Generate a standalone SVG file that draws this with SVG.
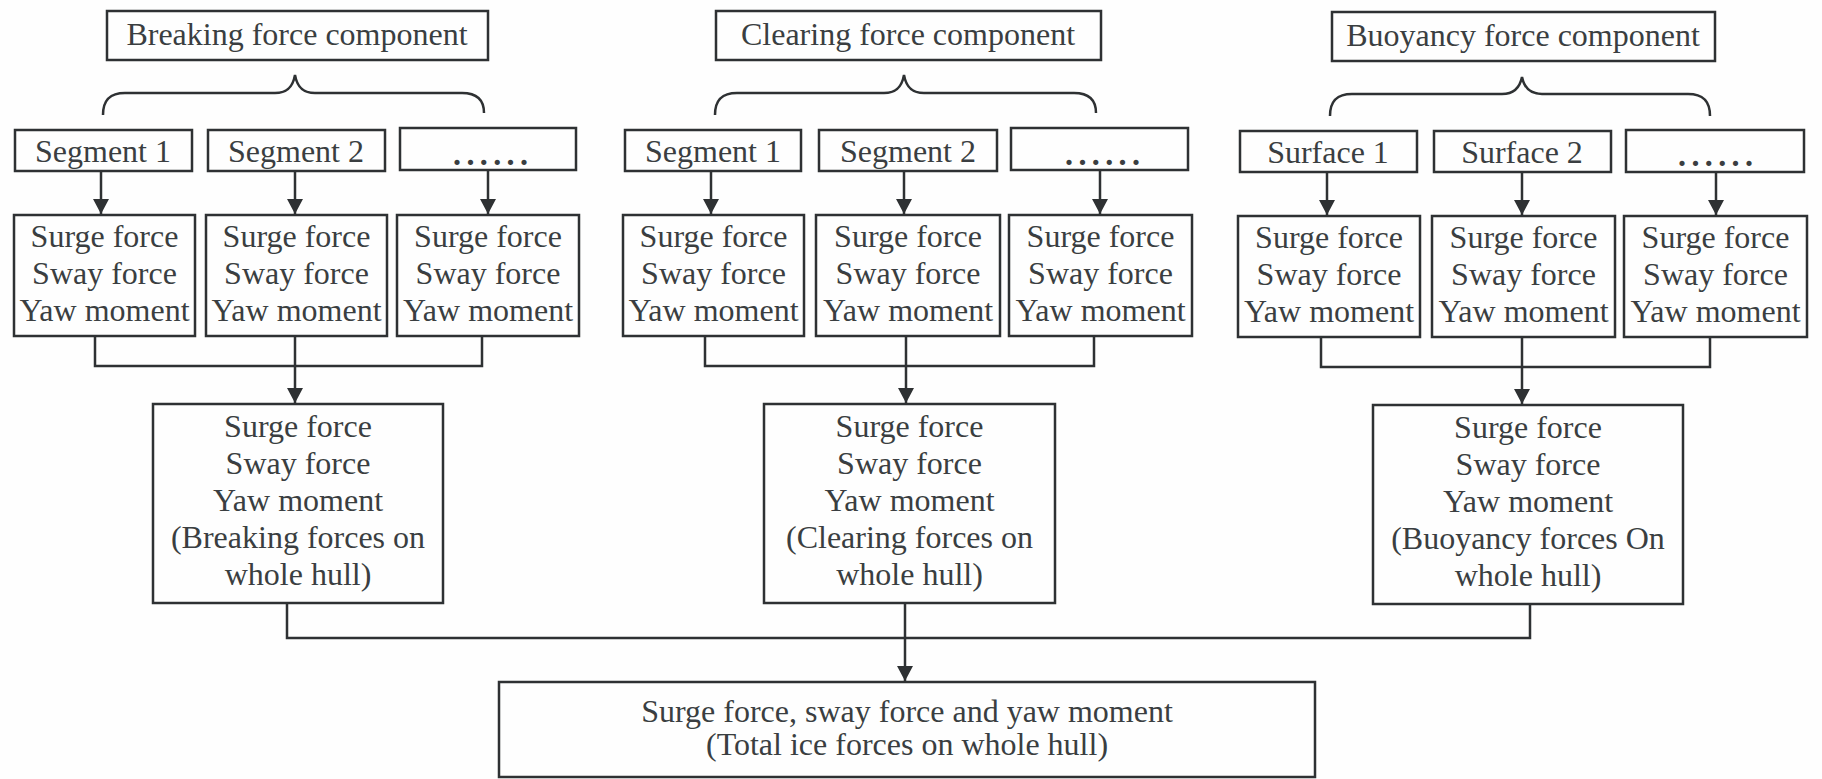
<svg xmlns="http://www.w3.org/2000/svg" width="1822" height="779" viewBox="0 0 1822 779">
<style>
.box{fill:none;stroke:#2e3133;stroke-width:2.5}
.ln{fill:none;stroke:#2e3133;stroke-width:2.5}
.t{font-family:"Liberation Serif","Times New Roman",serif;font-size:32px;fill:#3a3e41;text-anchor:middle}
.d{font-family:"Liberation Serif","Times New Roman",serif;font-size:32px;fill:#3a3e41;letter-spacing:5.4px;font-weight:bold}
</style>
<defs>
<marker id="ah" markerWidth="16" markerHeight="16" refX="15" refY="8" orient="auto" markerUnits="userSpaceOnUse">
<path d="M0,0 L15,8 L0,16 z" fill="#2e3133"/>
</marker>
</defs>
<rect x="0" y="0" width="1822" height="779" fill="#fefefe"/>

<!-- Breaking -->
<g id="breaking-title"><rect class="box" x="107" y="11" width="381" height="49"/><text class="t" x="297" y="45">Breaking force component</text></g>
<g id="b-seg1"><rect class="box" x="15" y="130" width="177" height="41"/><text class="t" x="103" y="162">Segment 1</text></g>
<g id="b-seg2"><rect class="box" x="208" y="130" width="177" height="41"/><text class="t" x="296" y="162">Segment 2</text></g>
<g id="b-seg3"><rect class="box" x="400" y="128" width="176" height="42"/><text class="d" x="453" y="165">......</text></g>
<g id="b-f1"><rect class="box" x="14" y="215" width="181" height="121"/><text class="t" x="104.5" y="247">Surge force</text><text class="t" x="104.5" y="284">Sway force</text><text class="t" x="104.5" y="321">Yaw moment</text></g>
<g id="b-f2"><rect class="box" x="206" y="215" width="181" height="121"/><text class="t" x="296.5" y="247">Surge force</text><text class="t" x="296.5" y="284">Sway force</text><text class="t" x="296.5" y="321">Yaw moment</text></g>
<g id="b-f3"><rect class="box" x="397" y="215" width="182" height="121"/><text class="t" x="488" y="247">Surge force</text><text class="t" x="488" y="284">Sway force</text><text class="t" x="488" y="321">Yaw moment</text></g>
<g id="b-total"><rect class="box" x="153" y="404" width="290" height="199"/><text class="t" x="298" y="437">Surge force</text><text class="t" x="298" y="474">Sway force</text><text class="t" x="298" y="511">Yaw moment</text><text class="t" x="298" y="548">(Breaking forces on</text><text class="t" x="298" y="585">whole hull)</text></g>

<!-- Clearing -->
<g id="clearing-title"><rect class="box" x="716" y="11" width="385" height="49"/><text class="t" x="908" y="45">Clearing force component</text></g>
<g id="c-seg1"><rect class="box" x="625" y="130" width="176" height="41"/><text class="t" x="713" y="162">Segment 1</text></g>
<g id="c-seg2"><rect class="box" x="819" y="130" width="178" height="41"/><text class="t" x="908" y="162">Segment 2</text></g>
<g id="c-seg3"><rect class="box" x="1011" y="128" width="177" height="42"/><text class="d" x="1065" y="165">......</text></g>
<g id="c-f1"><rect class="box" x="623" y="215" width="181" height="121"/><text class="t" x="713.5" y="247">Surge force</text><text class="t" x="713.5" y="284">Sway force</text><text class="t" x="713.5" y="321">Yaw moment</text></g>
<g id="c-f2"><rect class="box" x="816" y="215" width="184" height="121"/><text class="t" x="908" y="247">Surge force</text><text class="t" x="908" y="284">Sway force</text><text class="t" x="908" y="321">Yaw moment</text></g>
<g id="c-f3"><rect class="box" x="1009" y="215" width="183" height="121"/><text class="t" x="1100.5" y="247">Surge force</text><text class="t" x="1100.5" y="284">Sway force</text><text class="t" x="1100.5" y="321">Yaw moment</text></g>
<g id="c-total"><rect class="box" x="764" y="404" width="291" height="199"/><text class="t" x="909.5" y="437">Surge force</text><text class="t" x="909.5" y="474">Sway force</text><text class="t" x="909.5" y="511">Yaw moment</text><text class="t" x="909.5" y="548">(Clearing forces on</text><text class="t" x="909.5" y="585">whole hull)</text></g>

<!-- Buoyancy -->
<g id="buoyancy-title"><rect class="box" x="1332" y="12" width="383" height="49"/><text class="t" x="1523" y="46">Buoyancy force component</text></g>
<g id="u-s1"><rect class="box" x="1240" y="131" width="177" height="41"/><text class="t" x="1328" y="163">Surface 1</text></g>
<g id="u-s2"><rect class="box" x="1434" y="131" width="177" height="41"/><text class="t" x="1522" y="163">Surface 2</text></g>
<g id="u-s3"><rect class="box" x="1626" y="130" width="178" height="42"/><text class="d" x="1678" y="166">......</text></g>
<g id="u-f1"><rect class="box" x="1238" y="216" width="182" height="121"/><text class="t" x="1329" y="248">Surge force</text><text class="t" x="1329" y="285">Sway force</text><text class="t" x="1329" y="322">Yaw moment</text></g>
<g id="u-f2"><rect class="box" x="1432" y="216" width="183" height="121"/><text class="t" x="1523.5" y="248">Surge force</text><text class="t" x="1523.5" y="285">Sway force</text><text class="t" x="1523.5" y="322">Yaw moment</text></g>
<g id="u-f3"><rect class="box" x="1624" y="216" width="183" height="121"/><text class="t" x="1715.5" y="248">Surge force</text><text class="t" x="1715.5" y="285">Sway force</text><text class="t" x="1715.5" y="322">Yaw moment</text></g>
<g id="u-total"><rect class="box" x="1373" y="405" width="310" height="199"/><text class="t" x="1528" y="438">Surge force</text><text class="t" x="1528" y="475">Sway force</text><text class="t" x="1528" y="512">Yaw moment</text><text class="t" x="1528" y="549">(Buoyancy forces On</text><text class="t" x="1528" y="586">whole hull)</text></g>

<!-- Final -->
<g id="final"><rect class="box" x="499" y="682" width="816" height="95"/><text class="t" x="907" y="722">Surge force, sway force and yaw moment</text><text class="t" x="907" y="755">(Total ice forces on whole hull)</text></g>

<g id="connectors">
<!-- braces -->
<path class="ln" d="M103,115 C103,100 110,93 125,93 L275,93 C288,93 293,86 295,75 C297,86 302,93 315,93 L462,93 C477,93 484,100 484,113"/>
<path class="ln" d="M715,115 C715,100 722,93 737,93 L884,93 C897,93 902,86 904,75 C906,86 911,93 924,93 L1074,93 C1089,93 1096,100 1096,113"/>
<path class="ln" d="M1330,116 C1330,101 1337,94 1352,94 L1502,94 C1515,94 1520,87 1522,77 C1524,87 1529,94 1542,94 L1688,94 C1703,94 1710,101 1710,116"/>
<!-- segment arrows -->
<line class="ln" x1="101" y1="171" x2="101" y2="214" marker-end="url(#ah)"/>
<line class="ln" x1="295" y1="171" x2="295" y2="214" marker-end="url(#ah)"/>
<line class="ln" x1="488" y1="170" x2="488" y2="214" marker-end="url(#ah)"/>
<line class="ln" x1="711" y1="171" x2="711" y2="214" marker-end="url(#ah)"/>
<line class="ln" x1="904" y1="171" x2="904" y2="214" marker-end="url(#ah)"/>
<line class="ln" x1="1100" y1="170" x2="1100" y2="214" marker-end="url(#ah)"/>
<line class="ln" x1="1327" y1="172" x2="1327" y2="215" marker-end="url(#ah)"/>
<line class="ln" x1="1522" y1="172" x2="1522" y2="215" marker-end="url(#ah)"/>
<line class="ln" x1="1716" y1="172" x2="1716" y2="215" marker-end="url(#ah)"/>
<!-- merges -->
<polyline class="ln" points="95,336 95,366 482,366 482,336"/>
<line class="ln" x1="295" y1="336" x2="295" y2="403" marker-end="url(#ah)"/>
<polyline class="ln" points="705,336 705,366 1094,366 1094,336"/>
<line class="ln" x1="906" y1="336" x2="906" y2="403" marker-end="url(#ah)"/>
<polyline class="ln" points="1321,337 1321,367 1710,367 1710,337"/>
<line class="ln" x1="1522" y1="337" x2="1522" y2="404" marker-end="url(#ah)"/>
<!-- to final -->
<polyline class="ln" points="287,603 287,638 1530,638 1530,604"/>
<line class="ln" x1="905" y1="603" x2="905" y2="681" marker-end="url(#ah)"/>
</g>
</svg>
